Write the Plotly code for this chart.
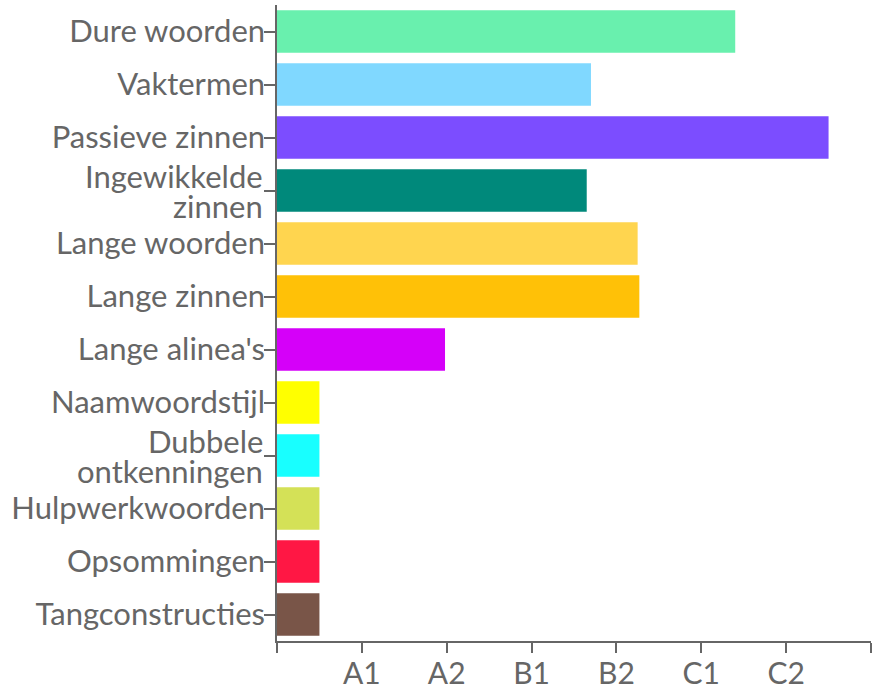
import plotly.graph_objects as go

categories = ["Dure woorden", "Vaktermen", "Passieve zinnen", "Ingewikkelde zinnen",
              "Lange woorden", "Lange zinnen", "Lange alinea's", "Naamwoordstijl",
              "Dubbele ontkenningen", "Hulpwerkwoorden", "Opsommingen", "Tangconstructies"]
values = [5.4, 3.7, 6.5, 3.65, 4.25, 4.27, 1.98, 0.5, 0.5, 0.5, 0.5, 0.5]
colors = ["#69F0AE", "#80D8FF", "#7C4DFF", "#00897B", "#FFD54F", "#FFC107",
          "#D500F9", "#FFFF00", "#18FFFF", "#D4E157", "#FF1744", "#795548"]
two_line = {"Ingewikkelde zinnen": ["Ingewikkelde", "zinnen"],
            "Dubbele ontkenningen": ["Dubbele", "ontkenningen"]}
tick_vals = [0, 1, 2, 3, 4, 5, 6, 7]
tick_text = ["", "A1", "A2", "B1", "B2", "C1", "C2", ""]

GREY = "#666666"
FONT = "Lato"
YSIZE = 31

fig = go.Figure(go.Bar(
    x=values, y=categories, orientation="h",
    marker=dict(color=colors, line=dict(width=0)),
    hoverinfo="x+y",
))

y_ticktext = ["" if c in two_line else c for c in categories]

annotations = []
for cat, lines in two_line.items():
    for i, line in enumerate(lines):
        annotations.append(dict(
            text=line, xref="paper", x=0, yref="y", y=cat,
            xanchor="right", yanchor="middle", showarrow=False,
            xshift=-12, yshift=15 - 30 * i,
            font=dict(family=FONT, size=YSIZE, color=GREY),
        ))

fig.update_layout(
    width=875, height=686,
    margin=dict(l=277, r=4, t=5, b=45),
    paper_bgcolor="white", plot_bgcolor="white",
    font=dict(family=FONT, size=30, color=GREY),
    bargap=0.2,
    showlegend=False,
    annotations=annotations,
)
fig.update_xaxes(
    range=[0, 7], tickvals=tick_vals, ticktext=tick_text,
    showgrid=False, zeroline=False,
    showline=True, linecolor=GREY, linewidth=1.5,
    ticks="outside", ticklen=10, tickwidth=1.5, tickcolor=GREY,
    ticklabelstandoff=-5,
    tickfont=dict(family=FONT, size=30, color=GREY),
    automargin=False,
)
fig.update_yaxes(
    categoryorder="array", categoryarray=categories, autorange="reversed",
    tickmode="array", tickvals=categories, ticktext=y_ticktext,
    showgrid=False, zeroline=False,
    showline=True, linecolor=GREY, linewidth=1.5,
    ticks="outside", ticklen=11, tickwidth=1.5, tickcolor=GREY,
    ticklabelstandoff=-7,
    tickfont=dict(family=FONT, size=YSIZE, color=GREY),
    automargin=False,
)

fig.write_html("out.html", config={"displayModeBar": False},
               post_script="document.body.style.margin='0';document.body.style.overflow='hidden';")
